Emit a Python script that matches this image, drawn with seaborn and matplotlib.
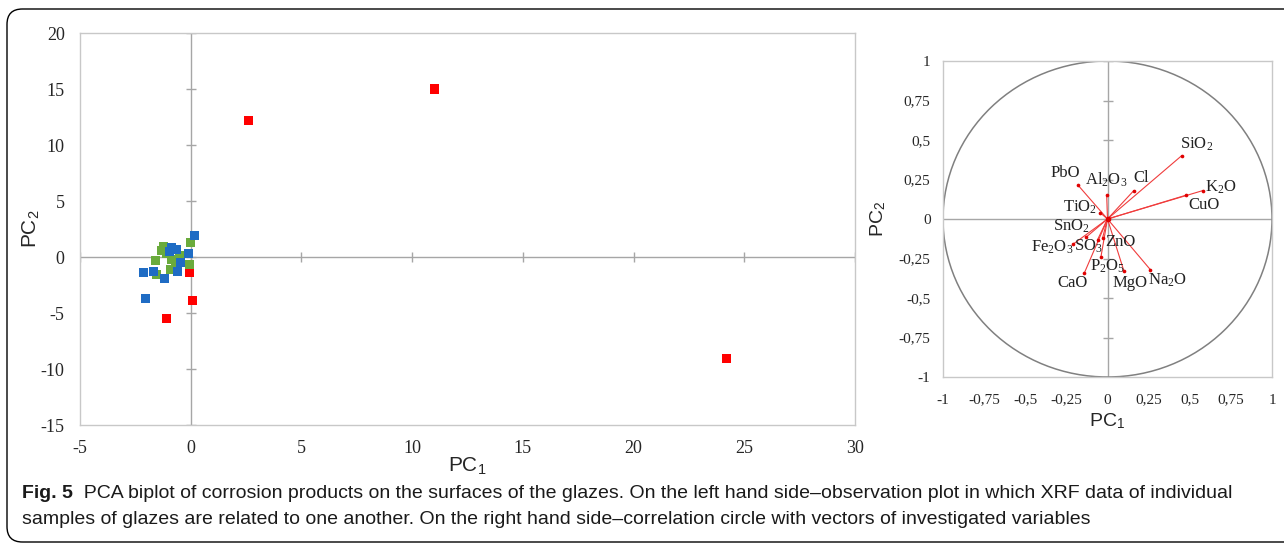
import matplotlib
matplotlib.use("Agg")
import matplotlib.pyplot as plt
import matplotlib.font_manager as fm
import numpy as np
import pandas as pd
import seaborn as sns
from matplotlib.patches import Circle, FancyBboxPatch

# observation scores (left plot)
red_x = [11.0, 2.6, 24.2, -0.05, 0.1, -1.1]
red_y = [15.0, 12.2, -9.1, -1.35, -3.85, -5.5]
green_x = [0.0, -1.3, -1.6, -0.85, -0.5, -0.05, -0.7, -1.55, -1.1, -1.25, -0.9]
green_y = [1.3, 0.55, -0.35, -0.25, 0.1, -0.65, -0.85, -1.6, 0.35, 0.9, -1.1]
blue_x = [0.15, -0.1, -0.85, -0.65, -0.95, -0.45, -0.6, -2.15, -1.7, -1.2, -2.05]
blue_y = [1.95, 0.35, 0.85, 0.7, 0.45, -0.5, -1.3, -1.4, -1.3, -1.9, -3.7]

# variable loadings (right plot)
variables = ["SiO$_2$", "K$_2$O", "CuO", "Cl", "Al$_2$O$_3$", "PbO", "TiO$_2$",
             "SnO$_2$", "Fe$_2$O$_3$", "SO$_3$", "ZnO", "P$_2$O$_5$", "CaO",
             "MgO", "Na$_2$O"]
pc1_load = [0.45, 0.58, 0.475, 0.16, -0.005, -0.18, -0.045, -0.13, -0.21, -0.06,
            -0.03, -0.04, -0.14, 0.10, 0.26]
pc2_load = [0.40, 0.18, 0.15, 0.18, 0.15, 0.215, 0.04, -0.115, -0.16, -0.13,
            -0.12, -0.24, -0.34, -0.33, -0.32]

left_xticks = [-5, 0, 5, 10, 15, 20, 25, 30]
left_yticks = [-15, -10, -5, 0, 5, 10, 15, 20]
circle_ticks = [-1, -0.75, -0.5, -0.25, 0, 0.25, 0.5, 0.75, 1]
circle_ticklabels = ["-1", "-0,75", "-0,5", "-0,25", "0", "0,25", "0,5", "0,75", "1"]

caption_bold = "Fig. 5"
caption_1 = ("  PCA biplot of corrosion products on the surfaces of the glazes. On the left hand side\u2013"
             "observation plot in which XRF data of individual")
caption_2 = ("samples of glazes are related to one another. On the right hand side\u2013correlation "
             "circle with vectors of investigated variables")

# label offsets in pixels (layout only)
label_off = [(15, 12), (18, 3), (18, -10), (7, 13), (0, 16), (-13, 12), (-20, 5),
             (-15, 11), (-21, -3), (-9, -7), (18, -4), (7, -9), (-12, -10),
             (6, -12), (17, -11)]

sns.set_style("white")
installed = {f.name for f in fm.fontManager.ttflist}
cap_font = "Liberation Sans Narrow" if "Liberation Sans Narrow" in installed else "Liberation Sans"
plt.rcParams["font.family"] = ["Liberation Serif", "DejaVu Serif"]
plt.rcParams["axes.unicode_minus"] = False
plt.rcParams["mathtext.fontset"] = "custom"
plt.rcParams["mathtext.rm"] = "Liberation Serif"
plt.rcParams["mathtext.it"] = "Liberation Serif:italic"
plt.rcParams["mathtext.sf"] = "Liberation Sans"

W, H = 1284, 550
fig = plt.figure(figsize=(W / 100, H / 100), dpi=100)

def frac(x0, y0, x1, y1):
    return [x0 / W, 1 - y1 / H, (x1 - x0) / W, (y1 - y0) / H]

frame_col = "#c8c8c8"
axis_col = "#a6a6a6"

# ---------- left: observation plot ----------
ax1 = fig.add_axes(frac(80, 33, 855, 425))
df = pd.concat([
    pd.DataFrame({"PC1": red_x, "PC2": red_y, "group": "red"}),
    pd.DataFrame({"PC1": green_x, "PC2": green_y, "group": "green"}),
    pd.DataFrame({"PC1": blue_x, "PC2": blue_y, "group": "blue"}),
])
ax1.axhline(0, color=axis_col, lw=1, zorder=1)
ax1.axvline(0, color=axis_col, lw=1, zorder=1)
ax1.plot([0] * len(left_yticks), left_yticks, ls="none", marker="_", ms=7,
         color=axis_col, mew=1, zorder=1)
ax1.plot(left_xticks, [0] * len(left_xticks), ls="none", marker="|", ms=7,
         color=axis_col, mew=1, zorder=1)
sns.scatterplot(data=df, x="PC1", y="PC2", hue="group",
                palette={"red": "#ff0000", "green": "#6aab3c", "blue": "#1f6cc4"},
                marker="s", s=42, linewidth=0, legend=False, ax=ax1, zorder=3)
ax1.set_xlim(-5, 30)
ax1.set_ylim(-15, 20)
ax1.set_xticks(left_xticks)
ax1.set_yticks(left_yticks)
ax1.tick_params(length=0, labelsize=13, pad=11)
ax1.tick_params(axis="x", pad=11)
for s in ax1.spines.values():
    s.set_color(frame_col)
    s.set_linewidth(1)
ax1.set_xlabel(r"PC$_\mathsf{1}$", family="Liberation Sans", fontsize=15)
ax1.set_ylabel(r"PC$_\mathsf{2}$", family="Liberation Sans", fontsize=15)
ax1.xaxis.set_label_coords(0.5, -0.077)
ax1.yaxis.set_label_coords(-0.05, 0.5)

# ---------- right: correlation circle ----------
ax2 = fig.add_axes(frac(943, 61, 1272, 377))
ax2.axhline(0, color=axis_col, lw=1, zorder=1)
ax2.axvline(0, color=axis_col, lw=1, zorder=1)
ax2.plot([0] * len(circle_ticks), circle_ticks, ls="none", marker="_", ms=7,
         color=axis_col, mew=1, zorder=1)
ax2.add_patch(Circle((0, 0), 1, fill=False, ec="#808080", lw=1.1, zorder=2))
for px, py in zip(pc1_load, pc2_load):
    ax2.plot([0, px], [0, py], color="#f03c3c", lw=0.8, zorder=3)
vec = pd.DataFrame({"PC1": pc1_load, "PC2": pc2_load})
sns.scatterplot(data=vec, x="PC1", y="PC2", color="#e00000", s=7, linewidth=0,
                ax=ax2, zorder=4)
ax2.plot([0], [0], marker="o", ms=3, color="#e00000", zorder=4)
for name, px, py, (dx, dy) in zip(variables, pc1_load, pc2_load, label_off):
    ax2.annotate(name, (px, py), xytext=(dx, dy), textcoords="offset pixels",
                 ha="center", va="center", fontsize=12, color="#222222")
ax2.set_xlim(-1, 1)
ax2.set_ylim(-1, 1)
ax2.set_xticks(circle_ticks)
ax2.set_xticklabels(circle_ticklabels)
ax2.set_yticks(circle_ticks)
ax2.set_yticklabels(circle_ticklabels)
ax2.tick_params(length=0, labelsize=11, pad=9)
ax2.tick_params(axis="x", pad=12)
for s in ax2.spines.values():
    s.set_color(frame_col)
    s.set_linewidth(1)
ax2.set_xlabel(r"PC$_\mathsf{1}$", family="Liberation Sans", fontsize=14, labelpad=3)
ax2.set_ylabel(r"PC$_\mathsf{2}$", family="Liberation Sans", fontsize=14, labelpad=8)

# ---------- caption and outer box ----------
fig.patches.append(FancyBboxPatch((7 / W, 8 / H), 1.2, (541 - 8) / H,
                                  boxstyle="round,pad=0,rounding_size=0.012",
                                  transform=fig.transFigure, fill=False,
                                  ec="black", lw=1, mutation_aspect=W / H))
y1, y2 = 1 - 494 / H, 1 - 519 / H
t = fig.text(22 / W, y1, caption_bold, family=cap_font, fontweight="bold",
             fontsize=14, va="center", color="#1a1a1a")
fig.canvas.draw()
bb = t.get_window_extent()
fig.text(bb.x1 / W, y1, caption_1, family=cap_font, fontsize=14,
         va="center", color="#1a1a1a")
fig.text(22 / W, y2, caption_2, family=cap_font, fontsize=14,
         va="center", color="#1a1a1a")

fig.savefig("out.png", dpi=100)
